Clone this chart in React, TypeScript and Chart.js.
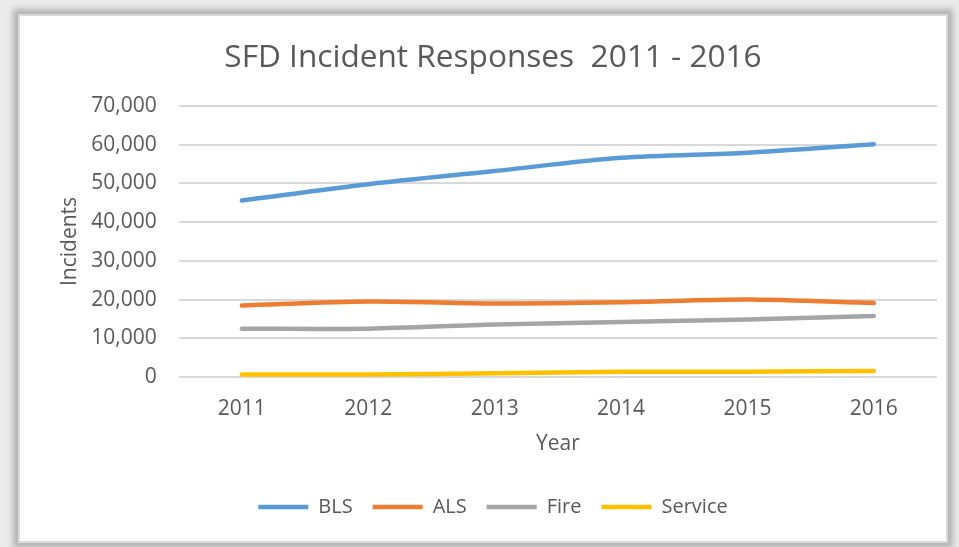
import React, { useEffect, useRef } from "react";
import { Chart, registerables } from "chart.js";

Chart.register(...registerables);

const years = ["2011", "2012", "2013", "2014", "2015", "2016"];
const bls = [45600, 49800, 53200, 56600, 57900, 60100];
const als = [18500, 19500, 19000, 19300, 20000, 19100];
const fire = [12500, 12500, 13600, 14200, 14900, 15800];
const service = [700, 700, 1000, 1350, 1400, 1600];

const FONT = "'Open Sans', 'DejaVu Sans', sans-serif";
const TEXT = "#595959";

export default function App() {
  const ref = useRef<HTMLCanvasElement | null>(null);

  useEffect(() => {
    if (!ref.current) return;
    const mk = (label: string, data: number[], color: string) => ({
      label,
      data,
      borderColor: color,
      backgroundColor: color,
      borderWidth: 4.5,
      borderCapStyle: "round" as const,
      borderJoinStyle: "round" as const,
      pointRadius: 0,
      pointHoverRadius: 0,
      pointStyle: "line" as const,
      tension: 0.3,
      fill: false,
    });
    const chart = new Chart(ref.current, {
      type: "line",
      data: {
        labels: years,
        datasets: [
          mk("BLS", bls, "#5B9BD5"),
          mk("ALS", als, "#ED7D31"),
          mk("Fire", fire, "#A5A5A5"),
          mk("Service", service, "#FFC000"),
        ],
      },
      options: {
        responsive: false,
        animation: false,
        layout: { padding: { left: 49, right: 22, top: 16, bottom: 20 } },
        plugins: {
          tooltip: { enabled: false },
          title: {
            display: true,
            text: "SFD Incident Responses  2011 - 2016",
            color: TEXT,
            font: { family: FONT, size: 31.6, weight: "normal" },
            padding: { top: 23, bottom: 29 },
          },
          legend: {
            position: "bottom",
            labels: {
              usePointStyle: true,
              pointStyle: "line",
              pointStyleWidth: 50,
              boxHeight: 20,
              padding: 20,
              color: TEXT,
              font: { family: FONT, size: 20 },
            },
          },
        },
        scales: {
          x: {
            offset: true,
            grid: { display: false, drawTicks: false },
            border: { display: false },
            ticks: { color: TEXT, font: { family: FONT, size: 21 }, padding: 19 },
            title: {
              display: true,
              text: "Year",
              color: TEXT,
              font: { family: FONT, size: 21 },
              padding: { top: -8.5, bottom: 20 },
            },
          },
          y: {
            min: 0,
            max: 70000,
            grid: { color: "#d9d9d9", lineWidth: 2, drawTicks: false },
            border: { display: false },
            ticks: {
              stepSize: 10000,
              color: TEXT,
              font: { family: FONT, size: 21 },
              padding: 22,
              callback: (v: any) => Number(v).toLocaleString("en-US"),
            },
            title: {
              display: true,
              text: "Incidents",
              color: TEXT,
              font: { family: FONT, size: 21 },
              padding: { top: 8, bottom: -13 },
            },
          },
        },
      },
    });
    return () => chart.destroy();
  }, []);

  return (
    <div style={{ position: "fixed", left: 0, top: 0, width: 959, height: 547, background: "#ebebeb", overflow: "hidden" }}>
      <div
        style={{
          position: "absolute",
          left: 20,
          top: 16,
          width: 926,
          height: 525,
          background: "#ffffff",
          boxShadow: "0 0 0 2px #dadada, 0 0 6px 7px #b3b3b3",
        }}
      />
      <canvas ref={ref} width={959} height={547} style={{ position: "absolute", left: 0, top: 0 }} />
    </div>
  );
}
